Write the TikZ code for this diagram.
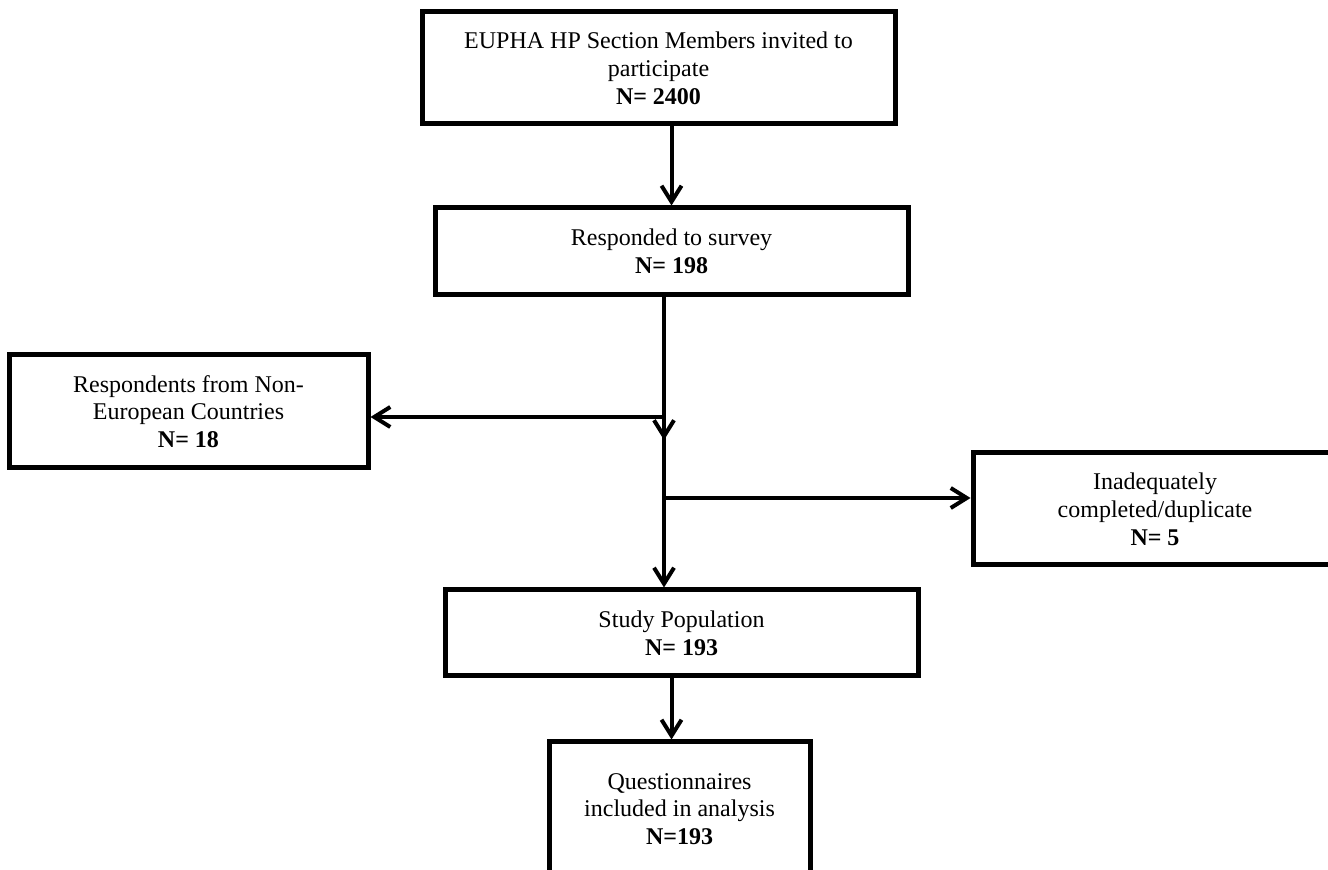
\documentclass[tikz,border=0pt]{standalone}
\usepackage{fontspec}
\setmainfont{Liberation Serif}
\usetikzlibrary{arrows.meta}
\begin{document}
\begin{tikzpicture}[x=0.5pt, y=-0.5pt, >={Straight Barb[length=8pt,width=10pt]},
    box/.style={draw, line width=2.5pt, inner sep=0pt, align=center,
      font=\fontsize{12}{13.9}\selectfont},
    link/.style={line width=2pt}]
    \useasboundingbox (0,0) rectangle (1328,870);

    \node[box, minimum width=236.5pt, minimum height=56pt] (invite) at (658.5,68)
      {EUPHA HP Section Members invited to\\participate\\\textbf{N= 2400}};
    \node[box, minimum width=236.5pt, minimum height=43.5pt] (respond) at (671.5,251.5)
      {Responded to survey\\\textbf{N= 198}};
    \node[box, minimum width=179.5pt, minimum height=56.5pt] (nonEU) at (188.5,411.5)
      {Respondents from Non-\\European Countries\\\textbf{N= 18}};
    \node[box, minimum width=182pt, minimum height=56pt] (inadequate) at (1155,509)
      {Inadequately\\completed/duplicate\\\textbf{N= 5}};
    \node[box, minimum width=236.5pt, minimum height=43pt] (study) at (681.5,633)
      {Study Population\\\textbf{N= 193}};
    \node[box, minimum width=130.5pt, minimum height=67pt] (analysis) at (679.5,809)
      {Questionnaires\\included in analysis\\\textbf{N=193}};

    \coordinate (split1) at (664,417);
    \coordinate (tip) at (664,440);
    \coordinate (split2) at (664,498);

    \draw[link, ->] (invite.south -| respond.north) -- (respond.north);
    \draw[link, ->] (respond.south -| split1) -- (study.north -| split1);
    \draw[link, ->] (split1) -- (tip);
    \draw[link, ->] (split1) -- (nonEU.east |- split1);
    \draw[link, ->] (split2) -- (inadequate.west |- split2);
    \draw[link, ->] (study.south -| respond.north) -- (analysis.north -| respond.north);
  \end{tikzpicture}
\end{document}
